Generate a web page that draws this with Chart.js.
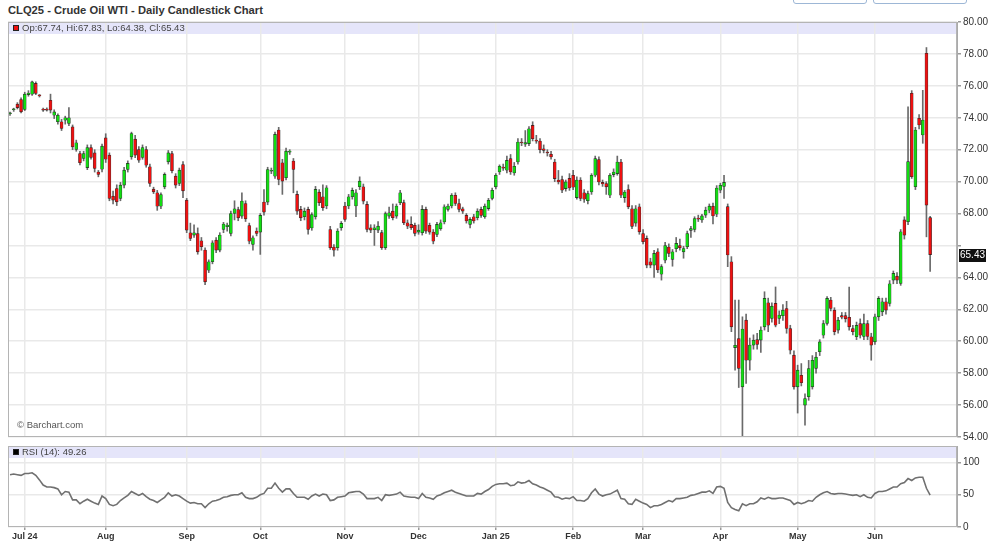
<!DOCTYPE html>
<html>
<head>
<meta charset="utf-8">
<title>CLQ25 - Crude Oil WTI - Daily Candlestick Chart</title>
<script src="https://cdn.jsdelivr.net/npm/chart.js@4.4.1/dist/chart.umd.min.js"></script>
<style>
  html, body { margin: 0; padding: 0; background: #fff; }
  body { width: 1000px; height: 551px; position: relative; overflow: hidden;
         font-family: "Liberation Sans", Arial, sans-serif; }
  #title { position: absolute; left: 8px; top: 4px; font-size: 11.2px; font-weight: bold; color: #333; white-space: nowrap; }
  .btn { position: absolute; top: -18px; height: 20px; border: 1px solid #9db7d6; border-radius: 3px; background: #fff; }
  #priceBox { position: absolute; left: 0; top: 14px; width: 1000px; height: 431px; }
  #rsiBox { position: absolute; left: 0; top: 438px; width: 1000px; height: 113px; }
</style>
</head>
<body>
<div id="title">CLQ25 - Crude Oil WTI - Daily Candlestick Chart</div>
<div class="btn" style="left:793px;width:72px"></div>
<div class="btn" style="left:873px;width:92px"></div>
<div id="priceBox"><canvas id="priceChart"></canvas></div>
<div id="rsiBox"><canvas id="rsiChart"></canvas></div>

<script>
// Month ticks: label and bar index of the first session in that month
const monthLabels = ['Jul 24', 'Aug', 'Sep', 'Oct', 'Nov', 'Dec', 'Jan 25', 'Feb', 'Mar', 'Apr', 'May', 'Jun'];
const monthStartBar = [4, 26, 48, 68, 91, 111, 132, 153, 172, 193, 214, 235];

// Daily OHLC, one entry per session (late Jun 2024 .. Jun 2025)
const opens = [
  74.25,74.50,74.85,75.14,74.52,75.45,75.48,76.15,75.40,74.50,
  74.52,75.10,74.16,73.75,73.75,73.85,73.64,73.43,72.01,71.76,
  71.45,70.88,72.14,71.80,70.60,70.78,72.74,71.66,69.09,69.57,
  68.94,69.78,70.76,71.55,72.66,72.01,71.51,72.01,70.93,69.53,
  69.30,68.46,69.67,71.24,71.76,70.34,69.88,71.07,68.84,66.79,
  66.65,66.75,66.29,65.71,64.45,64.98,66.33,65.71,67.00,67.17,
  66.75,68.00,68.25,67.84,68.63,67.25,66.06,66.90,66.84,68.72,
  68.72,70.65,70.34,73.23,71.18,70.24,71.85,71.29,69.20,68.26,
  67.80,68.26,67.10,67.80,69.34,69.05,68.47,67.00,65.90,65.86,
  67.11,68.47,68.47,69.05,68.47,69.68,69.68,68.57,67.11,66.99,
  66.96,66.80,65.86,67.84,68.15,67.84,68.68,68.68,67.42,67.32,
  67.26,66.84,66.80,68.26,67.26,66.84,66.69,67.05,67.47,68.26,
  68.47,69.14,68.63,68.30,67.88,67.32,67.80,67.74,68.26,67.80,
  68.31,68.94,69.67,70.60,70.90,70.71,71.44,70.54,71.23,72.45,
  72.35,72.38,73.52,72.60,72.54,72.06,71.82,71.71,71.23,70.10,
  70.13,69.56,70.20,70.40,69.00,70.10,69.30,68.80,69.35,70.40,
  71.38,69.95,69.88,69.15,70.44,70.50,71.23,69.00,69.50,68.30,
  67.40,68.42,66.75,66.44,64.98,64.77,65.60,64.20,65.08,65.90,
  65.13,65.80,66.00,65.60,65.92,66.95,67.00,67.70,67.60,67.90,
  68.21,68.46,67.96,69.46,69.70,68.43,64.98,59.60,60.17,57.14,
  61.32,58.81,59.76,60.10,60.07,60.90,62.41,61.43,62.37,61.43,
  61.60,62.05,60.80,59.13,57.14,57.87,56.00,56.52,57.14,58.30,
  59.34,60.38,61.11,62.58,61.95,60.70,61.60,61.60,61.50,60.80,
  60.28,61.10,60.30,61.10,60.28,59.96,61.53,61.84,62.47,62.37,
  63.83,64.08,63.62,67.60,67.49,75.53,69.68,73.97,72.92,78.04,
  67.74
];
const highs = [
  74.35,74.60,74.95,75.25,75.60,75.70,76.30,76.25,75.45,74.60,
  74.62,75.48,74.50,74.25,73.90,74.10,74.64,73.55,72.60,71.90,
  71.90,72.30,72.30,72.00,70.70,72.35,73.00,71.80,69.40,69.80,
  69.95,70.90,71.30,73.10,72.90,72.20,72.30,72.20,71.10,69.65,
  69.45,69.30,70.55,71.95,71.90,70.50,70.85,71.25,68.95,67.40,
  67.30,67.10,66.50,65.85,65.10,66.30,66.50,66.80,67.45,67.40,
  68.15,68.80,68.40,69.30,68.80,67.40,66.60,67.10,68.00,69.50,
  70.90,70.85,73.10,73.40,71.40,72.10,72.00,71.45,69.40,68.45,
  68.35,68.40,68.05,69.70,69.50,69.80,69.75,67.20,66.05,67.05,
  67.50,68.70,69.20,69.60,69.50,70.30,69.85,68.75,67.30,67.30,
  67.50,66.95,68.10,68.40,68.60,68.60,69.45,68.85,67.60,67.80,
  67.40,67.30,68.50,68.40,67.40,67.00,67.45,67.60,68.55,68.60,
  69.25,69.30,68.90,68.40,68.00,67.75,67.95,68.30,68.40,68.60,
  68.95,69.60,70.50,71.05,71.10,71.60,71.70,71.20,72.70,72.70,
  73.20,73.45,73.75,72.90,72.70,72.30,72.00,71.90,71.40,70.70,
  70.35,70.10,70.50,70.70,70.30,70.25,69.50,69.40,70.50,71.60,
  71.55,70.10,70.00,70.50,70.80,71.60,71.40,69.45,69.80,68.50,
  68.50,68.60,67.00,66.60,65.20,65.70,65.80,64.80,66.20,66.10,
  65.75,66.50,66.40,65.95,66.90,67.20,67.80,67.90,67.95,68.40,
  68.60,68.65,69.75,69.90,70.40,68.60,65.30,62.58,62.58,61.53,
  61.70,60.20,60.40,60.50,60.90,63.10,62.70,62.40,63.40,61.90,
  62.30,62.50,61.00,59.40,58.50,58.60,56.70,58.80,59.10,59.30,
  60.10,61.30,62.80,62.75,62.10,61.50,61.80,61.80,63.40,61.00,
  61.20,61.40,61.70,61.30,60.50,61.70,62.80,62.70,62.70,63.80,
  64.40,64.30,67.00,67.80,74.68,75.70,73.40,74.20,75.72,78.40,
  67.83
];
const lows = [
  74.15,74.40,74.55,74.30,74.45,75.35,75.40,75.45,75.30,74.40,
  74.42,74.30,73.95,73.60,73.20,73.60,73.50,72.00,71.90,71.05,
  71.30,70.75,71.40,70.60,70.30,70.60,71.20,68.80,68.60,68.50,
  68.80,69.60,70.60,71.40,71.50,71.20,71.40,70.90,69.70,69.25,
  68.20,68.30,69.55,71.10,70.55,69.60,69.75,69.00,66.80,66.30,
  66.50,65.45,65.70,63.55,64.30,64.85,65.55,65.60,66.80,66.90,
  66.60,67.60,67.55,67.70,67.50,66.10,65.70,66.60,65.44,67.90,
  68.55,70.50,70.20,69.80,69.20,70.10,71.70,69.30,67.95,67.55,
  67.60,66.70,66.95,67.65,68.50,68.20,68.30,65.75,65.33,65.70,
  66.95,67.50,68.30,68.90,67.80,69.50,68.60,66.85,66.80,66.00,
  66.80,65.75,65.75,67.70,67.60,67.70,68.55,67.30,67.05,67.00,
  66.60,66.70,66.65,66.75,66.70,66.10,66.55,66.95,67.35,68.15,
  68.35,68.50,68.10,68.00,67.40,67.10,67.40,67.60,67.75,67.70,
  68.20,68.85,69.55,70.45,70.70,70.55,70.45,70.40,71.10,72.25,
  72.20,72.25,72.55,72.40,71.80,71.80,71.60,71.40,70.00,69.85,
  69.30,69.40,69.45,69.50,68.90,68.80,68.70,68.60,69.20,70.30,
  69.80,69.70,69.20,69.00,70.30,70.40,69.00,68.70,68.30,67.05,
  67.20,66.70,66.10,64.60,64.60,64.00,64.30,63.83,64.90,65.30,
  64.70,65.60,65.70,65.20,65.80,66.50,66.85,67.50,67.45,67.75,
  68.05,67.35,67.80,69.30,68.95,64.67,60.60,58.19,57.10,54.00,
  57.35,58.19,59.50,59.50,59.30,60.70,60.60,61.20,60.90,61.10,
  61.30,60.50,59.20,57.00,55.50,57.20,54.74,56.30,57.00,58.00,
  59.10,60.20,61.00,61.90,60.40,60.50,61.40,61.20,60.70,60.40,
  60.10,60.20,60.10,60.10,58.81,59.80,61.30,61.60,61.70,62.20,
  63.60,63.60,63.50,66.40,67.30,70.20,69.50,73.30,72.40,66.54,
  64.38
];
const closes = [
  74.30,74.52,74.64,74.37,75.48,75.55,76.25,75.52,75.37,74.48,
  74.48,74.48,74.37,74.16,73.33,74.00,74.00,72.18,72.43,71.18,
  71.76,72.14,71.51,70.82,70.45,72.22,71.40,68.94,68.84,68.73,
  69.78,70.72,71.14,73.01,71.66,71.34,72.14,71.03,69.88,69.36,
  68.46,69.19,70.45,71.80,70.68,69.78,70.72,69.42,66.96,66.44,
  66.79,65.60,65.92,63.72,64.98,66.17,65.71,66.65,67.34,67.28,
  68.00,68.30,67.73,68.78,67.67,66.27,66.48,66.75,67.88,68.09,
  70.76,70.70,72.96,70.13,70.03,71.91,71.90,70.76,68.15,67.73,
  68.15,67.00,67.94,69.51,68.68,68.36,69.61,65.86,65.70,66.90,
  67.38,67.63,69.05,69.45,69.30,70.03,68.78,67.00,66.96,67.11,
  67.21,65.86,68.00,68.05,67.74,68.47,69.30,67.42,67.21,67.11,
  66.76,66.96,68.26,66.90,66.84,66.27,67.32,67.42,68.42,68.47,
  69.14,68.63,68.26,68.15,67.53,67.63,67.53,68.15,67.88,68.46,
  68.83,69.46,70.40,70.96,70.85,71.33,70.60,70.96,72.48,72.42,
  72.45,73.31,72.69,72.54,72.00,71.96,71.79,71.54,70.19,69.98,
  69.46,69.98,69.60,69.65,70.10,68.94,68.90,69.25,70.40,71.44,
  69.98,69.85,69.67,70.40,70.60,71.23,69.15,69.35,68.42,67.20,
  68.30,66.85,66.23,64.77,64.77,65.50,64.46,64.67,66.00,65.50,
  65.60,66.13,65.85,65.81,66.75,67.05,67.69,67.65,67.85,68.21,
  68.46,67.85,69.60,69.77,69.95,65.40,60.90,59.75,58.30,60.76,
  58.81,59.76,60.07,59.80,60.70,62.68,61.00,62.20,61.00,61.64,
  61.95,60.80,59.44,57.14,58.19,57.40,56.41,58.29,58.81,59.00,
  59.96,61.11,62.68,62.05,60.60,61.32,61.50,61.40,60.90,60.60,
  60.99,60.38,61.10,60.30,59.76,61.53,62.68,62.47,61.95,63.60,
  64.25,63.83,66.86,66.65,71.25,70.31,73.23,73.55,73.86,68.53,
  65.43
];

// RSI (14), one value per session
const rsiValues = [
  81,82,81,80,83,83,84,80,73,65,
  62,62,61,59,50,55,54,42,42,36,
  40,43,40,37,35,48,44,35,33,35,
  41,45,49,55,52,49,52,47,43,41,
  38,42,46,53,48,50,48,44,40,37,
  38,36,36,30,36,40,41,43,46,47,
  49,50,50,53,46,44,44,46,50,52,
  60,60,68,60,54,59,59,52,46,46,
  46,43,48,51,48,51,50,41,42,46,
  47,48,53,54,55,55,51,44,44,44,
  46,41,50,49,50,51,54,48,47,46,
  46,44,52,46,45,43,48,50,53,55,
  57,54,52,50,48,48,48,52,51,55,
  58,63,66,67,67,68,64,65,70,68,
  69,72,67,65,62,60,57,54,47,46,
  43,45,44,47,41,41,40,44,53,59,
  51,48,50,51,54,57,44,43,36,35,
  43,40,37,35,30,33,33,35,38,41,
  39,44,44,45,46,49,50,52,54,54,
  56,52,62,63,60,38,30,27,25,36,
  33,36,36,39,45,43,46,44,44,45,
  45,43,41,35,38,36,38,41,40,46,
  50,53,55,52,51,52,52,51,50,49,
  50,47,50,46,45,52,55,55,56,59,
  62,62,67,69,75,72,76,77,77,60,
  49.26
];
const rsiTicks = [0, 50, 100];

const last = closes.length - 1;
const upColor = '#12dd12';
const downColor = '#ee1111';
const gridColor = '#e9e9e9';
const fontFamily = '"Liberation Sans", Arial, sans-serif';
const xMin = -0.55, xMax = 257.3;

// lavender header band, frame and legend text of a panel
const panelFrame = {
    id: 'panelFrame',
    beforeDraw(chart, args, opts) {
        const { ctx, chartArea: a } = chart;
        ctx.save();
        ctx.fillStyle = '#e5e5fa';
        ctx.fillRect(a.left, a.top, a.right - a.left, 12);
        ctx.restore();
    },
    afterDraw(chart, args, opts) {
        const { ctx, chartArea: a } = chart;
        ctx.save();
        ctx.strokeStyle = '#b4b4b4';
        ctx.lineWidth = 1;
        ctx.strokeRect(a.left + 0.5, a.top + 0.5, a.right - a.left - 1, a.bottom - a.top - 1);
        ctx.fillStyle = opts.swatch;
        ctx.fillRect(a.left + 5, a.top + 3, 6, 6);
        ctx.strokeStyle = '#222';
        ctx.strokeRect(a.left + 5.5, a.top + 3.5, 5, 5);
        ctx.font = '9.5px ' + fontFamily;
        ctx.fillStyle = '#444';
        ctx.textBaseline = 'middle';
        ctx.fillText(opts.text, a.left + 14, a.top + 6.5);
        if (opts.credit) {
            ctx.font = '9.5px ' + fontFamily;
            ctx.fillStyle = '#555';
            ctx.fillText(opts.credit, a.left + 9, a.bottom - 12);
        }
        ctx.restore();
    }
};

// last price tag on the right axis
const lastPriceTag = {
    id: 'lastPriceTag',
    afterDraw(chart) {
        const { ctx, chartArea: a } = chart;
        const y = chart.scales.y.getPixelForValue(closes[last]);
        ctx.save();
        ctx.fillStyle = '#111';
        ctx.fillRect(a.right + 2, Math.round(y) - 6, 27, 13);
        ctx.font = '10px ' + fontFamily;
        ctx.fillStyle = '#fff';
        ctx.textBaseline = 'middle';
        ctx.fillText(closes[last].toFixed(2), a.right + 3, y + 0.5);
        ctx.restore();
    }
};

const monthAxis = (showLabels) => ({
    type: 'linear',
    min: xMin,
    max: xMax,
    offset: false,
    afterBuildTicks: (scale) => { scale.ticks = monthStartBar.map(v => ({ value: v })); },
    ticks: {
        display: showLabels,
        autoSkip: false,
        maxRotation: 0,
        padding: 1,
        color: '#333',
        font: { family: fontFamily, size: 9, weight: 'bold' },
        callback: (v) => monthLabels[monthStartBar.indexOf(v)]
    },
    grid: { offset: false, color: gridColor, lineWidth: 1.5, drawTicks: showLabels, tickLength: 3, tickColor: '#999' },
    border: { display: false },
    afterFit: (scale) => { scale.height = showLabels ? 20 : 0; }
});

const priceChart = new Chart(document.getElementById('priceChart'), {
    type: 'bar',
    data: {
        datasets: [{
            label: 'Body',
            order: 0,
            grouped: false,
            data: opens.map((o, i) => ({ x: i, y: [o, closes[i]] })),
            backgroundColor: closes.map((c, i) => c >= opens[i] ? upColor : downColor),
            borderColor: 'rgba(0,0,0,0.75)',
            borderWidth: 0.6,
            borderSkipped: false,
            barThickness: 3,
            minBarLength: 1
        }, {
            label: 'Range',
            order: 1,
            grouped: false,
            data: lows.map((l, i) => ({ x: i, y: [l, highs[i]] })),
            backgroundColor: '#6a6a6a',
            barThickness: 1
        }]
    },
    options: {
        responsive: true,
        maintainAspectRatio: false,
        devicePixelRatio: 1,
        animation: false,
        layout: { padding: { top: 8, bottom: 8, left: 8, right: 0 } },
        plugins: {
            legend: { display: false },
            tooltip: { enabled: false },
            panelFrame: {
                swatch: downColor,
                text: 'Op:' + opens[last].toFixed(2) + ', Hi:' + highs[last].toFixed(2) +
                      ', Lo:' + lows[last].toFixed(2) + ', Cl:' + closes[last].toFixed(2),
                credit: '\u00a9 Barchart.com'
            }
        },
        scales: {
            x: monthAxis(false),
            y: {
                position: 'right',
                min: 54,
                max: 80,
                ticks: {
                    stepSize: 2,
                    padding: 2,
                    color: '#333',
                    font: { family: fontFamily, size: 10 },
                    callback: (v) => Math.abs(v - closes[last]) < 1 ? '' : v.toFixed(2)
                },
                grid: { color: gridColor, lineWidth: 1.5, tickLength: 4, tickColor: '#999' },
                border: { color: '#aaa' },
                afterFit: (scale) => { scale.width = 43; }
            }
        }
    },
    plugins: [panelFrame, lastPriceTag]
});

const rsiChart = new Chart(document.getElementById('rsiChart'), {
    type: 'line',
    data: {
        datasets: [{
            label: 'RSI (14)',
            data: rsiValues.map((v, i) => ({ x: i, y: v })),
            borderColor: '#707070',
            borderWidth: 1.6,
            pointRadius: 0,
            tension: 0
        }]
    },
    options: {
        responsive: true,
        maintainAspectRatio: false,
        devicePixelRatio: 1,
        animation: false,
        layout: { padding: { top: 2, bottom: 4, left: 8, right: 0 } },
        plugins: {
            legend: { display: false },
            tooltip: { enabled: false },
            panelFrame: {
                swatch: '#000',
                text: 'RSI (14): ' + rsiValues[last].toFixed(2)
            }
        },
        scales: {
            x: monthAxis(true),
            y: {
                position: 'right',
                min: 0,
                max: 125.5,
                afterBuildTicks: (scale) => { scale.ticks = rsiTicks.map(v => ({ value: v })); },
                ticks: { padding: 2, color: '#333', font: { family: fontFamily, size: 10 } },
                grid: { color: gridColor, lineWidth: 1.5, tickLength: 4, tickColor: '#999' },
                border: { color: '#aaa' },
                afterFit: (scale) => { scale.width = 43; }
            }
        }
    },
    plugins: [panelFrame]
});
</script>
</body>
</html>
